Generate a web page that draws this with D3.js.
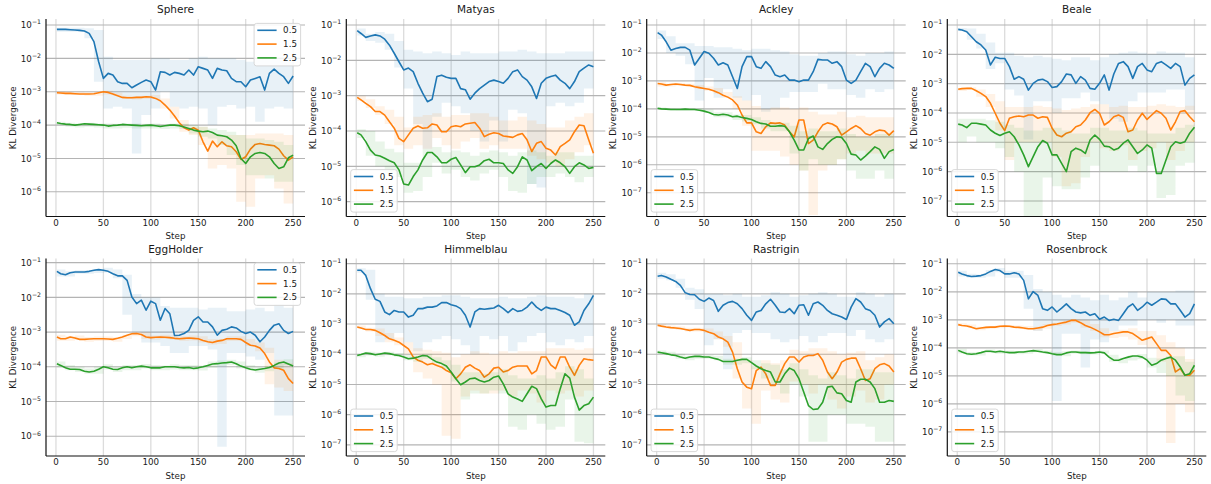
<!DOCTYPE html>
<html lang="en">
<head>
<meta charset="UTF-8">
<title>KL Divergence per test function</title>
<style>
    body {
        margin: 0;
        background: #fff;
        font-family: "DejaVu Sans", sans-serif;
    }
    text { fill: #1a1a1a; }
</style>
</head>
<body>
<svg id="chart" width="1211" height="484"></svg>
<script src="https://cdn.jsdelivr.net/npm/d3@7/dist/d3.min.js"></script>
<script>
// all KL values are stored as log10(KL)
const steps = [1, 5, 10, 15, 20, 25, 30, 35, 40, 45, 50, 55, 60, 65, 70, 75, 80, 85, 90, 95, 100, 105, 110, 115, 120, 125, 130, 135, 140, 145, 150, 155, 160, 165, 170, 175, 180, 185, 190, 195, 200, 205, 210, 215, 220, 225, 230, 235, 240, 245, 250];
const bandSteps = [1, 10, 20, 30, 40, 50, 60, 70, 80, 90, 100, 110, 120, 130, 140, 150, 160, 170, 180, 190, 200, 210, 220, 230, 240, 250];
const seriesLabels = ["0.5", "1.5", "2.5"];
const xTicks = [0, 50, 100, 150, 200, 250];

// Sphere
const sphere_05 = [-1.13,-1.13,-1.13,-1.14,-1.15,-1.16,-1.18,-1.25,-1.5,-2.1,-2.6,-2.45,-2.5,-2.7,-2.75,-2.75,-2.88,-2.8,-2.72,-2.65,-2.7,-2.95,-2.4,-2.42,-2.5,-2.42,-2.45,-2.5,-2.35,-2.5,-2.25,-2.3,-2.35,-2.6,-2.3,-2.35,-2.37,-2.6,-2.7,-2.7,-2.85,-2.65,-2.6,-2.55,-2.95,-2.45,-2.32,-2.45,-2.55,-2.75,-2.53];
const sphere_05_hi = [-1.08,-1.08,-1.08,-1.1,-1.15,-1.95,-2.05,-2.05,-2.05,-2.05,-2.0,-2.0,-2.05,-2.05,-2.0,-1.95,-2.0,-2.0,-2.0,-2.05,-2.1,-2.05,-2.05,-1.95,-2.05,-2.05];
const sphere_05_lo = [-1.2,-1.2,-1.2,-1.4,-2.7,-3.5,-3.45,-3.5,-4.85,-3.7,-3.5,-3.0,-3.45,-3.5,-3.45,-3.5,-4.0,-3.45,-3.4,-3.5,-3.45,-3.9,-3.5,-3.45,-3.5,-3.5];
const sphere_15 = [-3.03,-3.04,-3.05,-3.05,-3.06,-3.07,-3.07,-3.07,-3.06,-3.03,-3.0,-3.02,-3.07,-3.12,-3.17,-3.18,-3.18,-3.17,-3.17,-3.15,-3.16,-3.2,-3.27,-3.4,-3.55,-3.73,-3.93,-4.08,-4.15,-4.08,-4.15,-4.5,-4.78,-4.48,-4.65,-4.5,-4.62,-4.65,-4.8,-5.03,-4.95,-4.72,-4.58,-4.55,-4.58,-4.6,-4.62,-4.72,-4.92,-5.05,-4.95];
const sphere_15_hi = [-2.98,-3.0,-3.0,-3.02,-3.02,-2.97,-3.03,-3.12,-3.13,-3.12,-3.1,-3.2,-3.45,-3.85,-4.05,-4.05,-4.25,-4.3,-4.3,-4.3,-4.3,-4.25,-4.25,-4.25,-4.3,-4.5];
const sphere_15_lo = [-3.08,-3.1,-3.1,-3.12,-3.12,-3.08,-3.12,-3.22,-3.23,-3.22,-3.22,-3.5,-3.8,-4.2,-4.3,-4.6,-5.3,-5.2,-5.3,-6.3,-6.45,-5.6,-5.5,-5.9,-6.35,-6.3];
const sphere_25 = [-3.93,-3.95,-3.97,-3.98,-4.0,-3.98,-3.96,-3.97,-3.98,-3.99,-4.0,-4.03,-4.01,-4.0,-3.98,-3.99,-4.0,-4.01,-4.02,-4.01,-4.0,-4.02,-4.04,-4.02,-4.0,-4.0,-4.02,-4.06,-4.1,-4.15,-4.18,-4.2,-4.18,-4.22,-4.3,-4.32,-4.35,-4.45,-4.62,-5.0,-5.15,-4.95,-4.85,-4.82,-4.85,-4.95,-5.15,-5.3,-5.25,-4.98,-4.9];
const sphere_25_hi = [-3.9,-3.93,-3.95,-3.93,-3.95,-3.95,-3.96,-3.95,-3.95,-3.96,-3.95,-3.98,-3.95,-3.96,-4.0,-4.05,-4.1,-4.15,-4.2,-4.3,-4.4,-4.4,-4.45,-4.5,-4.6,-4.7];
const sphere_25_lo = [-4.0,-4.05,-4.07,-4.05,-4.07,-4.1,-4.1,-4.08,-4.1,-4.1,-4.1,-4.12,-4.1,-4.12,-4.25,-4.35,-4.4,-4.6,-4.9,-5.2,-5.5,-5.5,-5.6,-5.7,-5.7,-5.7];

// Matyas
const matyas_05 = [-1.16,-1.24,-1.35,-1.31,-1.28,-1.31,-1.4,-1.57,-1.8,-2.04,-2.27,-2.22,-2.32,-2.65,-2.93,-3.17,-3.1,-2.46,-2.42,-2.48,-2.51,-2.51,-2.8,-2.83,-3.1,-2.93,-2.8,-2.7,-2.6,-2.56,-2.6,-2.65,-2.51,-2.32,-2.27,-2.46,-2.56,-2.75,-3.08,-2.65,-2.51,-2.46,-2.42,-2.56,-2.65,-2.8,-2.6,-2.32,-2.22,-2.13,-2.18];
const matyas_05_hi = [-1.1,-1.25,-1.2,-1.25,-1.45,-1.7,-1.75,-1.8,-1.75,-1.8,-1.85,-1.75,-1.8,-1.8,-1.8,-1.75,-1.75,-1.7,-1.75,-1.8,-1.8,-1.8,-1.75,-1.75,-1.75,-1.75];
const matyas_05_lo = [-1.3,-1.45,-1.5,-1.7,-2.2,-2.8,-3.8,-4.5,-3.6,-3.2,-3.3,-3.5,-4.0,-4.3,-3.7,-4.3,-3.4,-3.5,-5.5,-5.6,-3.3,-3.2,-3.3,-3.2,-2.8,-2.6];
const matyas_15 = [-3.05,-3.12,-3.22,-3.31,-3.45,-3.45,-3.55,-3.74,-3.92,-4.21,-4.3,-4.11,-3.92,-3.86,-3.92,-3.91,-3.8,-3.83,-4.02,-4.02,-3.88,-3.85,-3.88,-3.8,-3.78,-3.76,-3.92,-4.16,-4.09,-4.05,-4.07,-4.14,-4.16,-4.18,-4.11,-4.07,-4.25,-4.58,-4.35,-4.3,-4.49,-4.54,-4.68,-4.44,-4.35,-4.25,-4.02,-3.83,-3.85,-4.25,-4.63];
const matyas_15_hi = [-3.0,-3.1,-3.3,-3.4,-3.6,-3.9,-3.6,-3.55,-3.5,-3.6,-3.55,-3.55,-3.5,-3.5,-3.6,-3.7,-3.7,-3.6,-3.7,-3.8,-3.9,-3.9,-3.7,-3.6,-3.5,-3.7];
const matyas_15_lo = [-3.15,-3.35,-3.55,-3.8,-4.4,-4.5,-4.4,-4.5,-4.2,-4.4,-4.5,-4.3,-4.2,-4.5,-4.4,-4.5,-4.5,-4.5,-4.7,-4.8,-4.9,-5.0,-4.8,-4.6,-4.4,-4.9];
const matyas_25 = [-4.05,-4.11,-4.3,-4.54,-4.68,-4.71,-4.77,-4.84,-4.9,-5.1,-5.5,-5.53,-5.29,-5.1,-4.82,-4.61,-4.61,-4.73,-4.9,-4.9,-4.8,-4.75,-4.96,-5.18,-5.01,-5.01,-4.96,-4.84,-4.8,-4.9,-4.9,-4.92,-5.1,-5.2,-5.01,-4.73,-4.82,-5.12,-5.01,-4.92,-5.06,-4.92,-4.82,-4.9,-5.01,-5.2,-5.01,-4.9,-4.96,-5.06,-5.03];
const matyas_25_hi = [-3.95,-4.0,-4.3,-4.5,-4.6,-4.9,-4.9,-4.5,-4.45,-4.6,-4.55,-4.6,-4.7,-4.6,-4.55,-4.6,-4.7,-4.6,-4.55,-4.6,-4.7,-4.6,-4.6,-4.7,-4.7,-4.75];
const matyas_25_lo = [-4.2,-4.7,-5.0,-5.2,-5.3,-5.75,-5.7,-5.3,-4.9,-5.2,-5.1,-5.3,-5.4,-5.2,-5.1,-5.3,-5.7,-5.75,-5.5,-5.3,-5.3,-5.2,-5.3,-5.45,-5.3,-5.3];

// Ackley
const ackley_05 = [-1.27,-1.36,-1.6,-1.9,-1.84,-1.8,-1.8,-1.9,-2.43,-2.19,-1.95,-2.01,-2.19,-2.43,-2.35,-2.43,-2.85,-3.27,-2.49,-2.13,-2.13,-2.49,-2.55,-2.31,-2.49,-2.79,-2.85,-2.79,-2.97,-2.97,-3.03,-2.97,-2.97,-2.67,-2.23,-2.25,-2.25,-2.37,-2.31,-2.49,-2.97,-3.09,-2.97,-2.67,-2.37,-2.49,-2.85,-2.55,-2.37,-2.43,-2.55];
const ackley_05_hi = [-1.2,-1.4,-1.65,-1.65,-1.75,-1.75,-1.8,-1.8,-1.85,-1.9,-1.85,-1.85,-1.9,-1.95,-2.05,-2.1,-2.1,-2.0,-1.95,-1.95,-2.05,-2.1,-2.0,-2.0,-1.95,-2.0];
const ackley_05_lo = [-1.5,-2.0,-2.1,-2.4,-3.7,-2.9,-3.6,-3.3,-3.6,-3.7,-3.5,-4.1,-4.0,-3.6,-3.4,-3.4,-3.4,-3.1,-3.3,-3.3,-3.5,-3.6,-3.3,-3.4,-3.3,-3.2];
const ackley_15 = [-3.09,-3.11,-3.15,-3.13,-3.11,-3.13,-3.15,-3.16,-3.21,-3.24,-3.27,-3.3,-3.35,-3.42,-3.51,-3.58,-3.68,-3.86,-4.22,-4.5,-4.5,-4.82,-4.88,-4.64,-4.5,-4.52,-4.5,-4.58,-4.82,-5.0,-4.4,-4.4,-5.24,-5.12,-4.82,-4.58,-4.5,-4.54,-4.64,-4.94,-4.82,-4.7,-4.6,-4.7,-4.88,-4.94,-4.82,-4.76,-4.78,-4.94,-4.78];
const ackley_15_hi = [-3.05,-3.1,-3.07,-3.1,-3.15,-3.2,-3.25,-3.4,-3.55,-3.7,-3.9,-4.0,-3.95,-3.95,-4.0,-3.95,-4.1,-4.2,-4.2,-4.1,-4.3,-4.25,-4.3,-4.3,-4.3,-4.3];
const ackley_15_lo = [-3.2,-3.2,-3.17,-3.2,-3.27,-3.35,-3.45,-3.6,-4.0,-4.6,-5.5,-5.5,-5.5,-5.7,-6.0,-6.2,-7.8,-6.2,-6.0,-5.8,-5.6,-5.5,-5.6,-5.6,-5.6,-5.6];
const ackley_25 = [-3.98,-4.0,-4.01,-4.02,-4.02,-4.02,-4.01,-4.02,-4.02,-4.05,-4.08,-4.13,-4.2,-4.22,-4.19,-4.22,-4.28,-4.26,-4.31,-4.34,-4.38,-4.46,-4.52,-4.54,-4.62,-4.62,-4.6,-4.62,-4.82,-5.12,-5.47,-5.47,-5.06,-4.97,-5.36,-5.45,-5.24,-5.09,-5.0,-5.02,-5.24,-5.62,-5.65,-5.83,-5.69,-5.53,-5.36,-5.45,-5.77,-5.53,-5.45];
const ackley_25_hi = [-3.95,-3.97,-3.98,-3.97,-3.98,-4.02,-4.12,-4.12,-4.2,-4.22,-4.3,-4.4,-4.5,-4.5,-4.6,-4.8,-4.7,-4.8,-4.8,-4.7,-4.9,-5.0,-5.0,-4.9,-4.9,-5.0];
const ackley_25_lo = [-4.03,-4.05,-4.06,-4.06,-4.07,-4.15,-4.3,-4.3,-4.4,-4.45,-4.55,-4.7,-4.8,-4.8,-5.6,-6.2,-5.8,-6.0,-6.0,-5.8,-6.2,-6.5,-6.5,-6.2,-6.5,-6.4];

// Beale
const beale_05 = [-1.15,-1.17,-1.23,-1.4,-1.57,-1.68,-1.85,-2.36,-2.1,-2.14,-2.14,-2.42,-2.85,-2.76,-2.85,-3.22,-2.99,-2.88,-2.85,-2.93,-3.13,-3.1,-2.93,-2.67,-2.7,-2.99,-2.76,-2.88,-3.16,-3.19,-2.99,-2.7,-3.22,-2.67,-2.31,-2.25,-2.42,-2.82,-2.42,-2.31,-2.53,-2.59,-2.31,-2.25,-2.36,-2.48,-2.31,-2.42,-3.05,-2.82,-2.7];
const beale_05_hi = [-1.1,-1.12,-1.3,-1.6,-1.95,-1.95,-2.05,-2.1,-2.05,-2.1,-2.15,-2.2,-2.1,-2.1,-2.2,-2.1,-2.0,-1.95,-1.9,-1.95,-2.0,-1.9,-1.95,-1.95,-2.1,-2.1];
const beale_05_lo = [-1.2,-1.5,-1.8,-2.5,-2.3,-3.2,-3.4,-4.9,-3.6,-3.6,-4.0,-3.5,-3.5,-3.3,-3.6,-3.7,-4.2,-4.3,-3.6,-3.3,-3.3,-3.3,-3.2,-3.2,-3.9,-3.4];
const beale_15 = [-3.19,-3.17,-3.16,-3.16,-3.24,-3.33,-3.44,-3.67,-4.01,-4.35,-4.6,-4.18,-4.13,-4.1,-4.13,-4.07,-4.07,-4.18,-4.13,-4.15,-4.52,-4.75,-4.81,-4.69,-4.64,-4.47,-4.41,-4.24,-3.99,-3.88,-4.01,-4.41,-4.3,-4.13,-4.07,-4.15,-4.64,-4.58,-4.24,-4.01,-4.22,-4.07,-3.92,-4.01,-4.18,-4.58,-4.3,-3.95,-3.92,-4.13,-4.3];
const beale_15_hi = [-3.15,-3.12,-3.2,-3.35,-3.6,-3.8,-3.8,-3.8,-3.75,-3.8,-3.85,-3.9,-3.85,-3.8,-3.7,-3.7,-3.8,-3.75,-3.8,-3.8,-3.75,-3.7,-3.75,-3.8,-3.75,-3.8];
const beale_15_lo = [-3.25,-3.22,-3.45,-3.8,-4.6,-5.6,-5.0,-5.0,-5.0,-5.0,-5.5,-6.5,-6.4,-5.5,-5.0,-5.2,-5.3,-5.1,-5.6,-5.3,-5.2,-5.0,-5.6,-5.3,-5.0,-5.2];
const beale_25 = [-4.38,-4.41,-4.5,-4.35,-4.35,-4.38,-4.41,-4.58,-4.69,-4.77,-4.69,-4.64,-4.81,-5.09,-5.43,-5.83,-5.49,-5.15,-4.94,-5.03,-5.43,-5.43,-5.72,-6.0,-5.32,-5.2,-5.26,-5.38,-4.92,-4.75,-4.9,-5.13,-5.15,-5.26,-5.2,-5.03,-4.92,-5.15,-5.38,-5.26,-5.09,-5.2,-6.06,-6.06,-5.6,-5.15,-4.98,-5.03,-4.98,-4.69,-4.49];
const beale_25_hi = [-4.2,-4.2,-4.2,-4.25,-4.3,-4.4,-4.5,-4.6,-4.6,-4.5,-4.5,-4.6,-4.7,-4.7,-4.5,-4.5,-4.6,-4.6,-4.5,-4.6,-4.7,-4.7,-4.7,-4.5,-4.4,-4.3];
const beale_25_lo = [-5.0,-4.8,-5.0,-5.0,-5.2,-5.5,-6.0,-7.6,-7.6,-6.2,-6.5,-6.6,-6.6,-6.2,-5.8,-6.0,-6.0,-6.0,-5.8,-6.0,-5.8,-6.9,-6.8,-5.8,-5.7,-5.5];

// EggHolder
const egg_05 = [-1.25,-1.32,-1.35,-1.29,-1.27,-1.27,-1.27,-1.25,-1.22,-1.2,-1.22,-1.25,-1.32,-1.38,-1.38,-1.51,-1.99,-2.18,-2.08,-2.37,-2.11,-2.18,-2.66,-2.32,-2.47,-3.1,-3.09,-3.04,-2.95,-2.66,-2.56,-2.71,-2.71,-2.85,-3.09,-2.95,-2.92,-2.85,-2.88,-2.98,-3.04,-3.0,-3.09,-3.28,-3.14,-2.95,-2.8,-2.76,-2.95,-3.04,-2.98];
const egg_05_hi = [-1.2,-1.25,-1.22,-1.22,-1.18,-1.15,-1.2,-1.35,-1.9,-2.0,-2.0,-2.25,-2.3,-2.3,-2.3,-2.35,-2.3,-2.3,-2.4,-2.4,-2.35,-2.3,-2.4,-2.2,-2.3,-2.4];
const egg_05_lo = [-1.4,-1.4,-1.32,-1.32,-1.3,-1.28,-1.45,-2.5,-3.0,-3.3,-3.3,-3.4,-3.6,-3.6,-3.4,-3.4,-3.5,-6.3,-3.6,-3.6,-3.7,-3.8,-3.6,-5.4,-5.4,-5.4];
const egg_15 = [-3.14,-3.19,-3.19,-3.14,-3.17,-3.21,-3.21,-3.2,-3.19,-3.19,-3.19,-3.2,-3.21,-3.18,-3.14,-3.09,-3.05,-3.04,-3.07,-3.14,-3.16,-3.15,-3.14,-3.15,-3.16,-3.18,-3.19,-3.18,-3.17,-3.18,-3.19,-3.24,-3.28,-3.3,-3.26,-3.24,-3.19,-3.19,-3.19,-3.21,-3.3,-3.38,-3.4,-3.46,-3.62,-3.86,-4.03,-4.05,-4.1,-4.34,-4.48];
const egg_15_hi = [-3.08,-3.12,-3.1,-3.14,-3.13,-3.13,-3.15,-3.08,-3.0,-3.0,-3.1,-3.08,-3.1,-3.12,-3.1,-3.12,-3.2,-3.2,-3.12,-3.12,-3.2,-3.3,-3.45,-3.8,-3.9,-4.2];
const egg_15_lo = [-3.25,-3.25,-3.23,-3.28,-3.26,-3.26,-3.28,-3.2,-3.12,-3.2,-3.22,-3.2,-3.22,-3.26,-3.24,-3.3,-3.36,-3.34,-3.26,-3.26,-3.4,-3.55,-4.5,-4.6,-4.7,-4.75];
const egg_25 = [-3.91,-3.96,-4.03,-4.07,-4.07,-4.08,-4.13,-4.15,-4.13,-4.07,-4.0,-4.03,-4.07,-4.08,-4.03,-4.0,-4.03,-4.0,-3.98,-4.0,-4.03,-4.03,-4.03,-4.0,-4.0,-4.0,-4.02,-4.03,-4.02,-4.05,-4.03,-4.0,-3.96,-3.92,-3.91,-3.89,-3.88,-3.86,-3.91,-3.98,-4.03,-4.07,-4.09,-4.07,-4.05,-4.02,-3.96,-3.89,-3.86,-3.92,-3.98];
const egg_25_hi = [-3.85,-3.95,-4.0,-4.05,-4.0,-3.93,-4.0,-3.95,-3.95,-3.92,-3.95,-3.96,-3.93,-3.95,-3.95,-3.96,-3.85,-3.82,-3.8,-3.85,-3.95,-4.0,-3.97,-3.88,-3.78,-3.85];
const egg_25_lo = [-4.02,-4.1,-4.15,-4.2,-4.2,-4.08,-4.15,-4.1,-4.1,-4.05,-4.1,-4.1,-4.08,-4.1,-4.1,-4.11,-4.03,-3.98,-3.95,-4.05,-4.1,-4.17,-4.13,-4.05,-3.95,-4.08];

// Himmelblau
const himmel_05 = [-1.22,-1.22,-1.39,-1.83,-2.18,-2.25,-2.6,-2.69,-2.55,-2.6,-2.6,-2.77,-2.71,-2.49,-2.49,-2.44,-2.44,-2.4,-2.29,-2.29,-2.36,-2.4,-2.49,-2.71,-3.1,-2.6,-2.49,-2.51,-2.49,-2.47,-2.38,-2.49,-2.62,-2.49,-2.58,-2.55,-2.44,-2.27,-2.44,-2.55,-2.44,-2.49,-2.49,-2.55,-2.62,-2.71,-3.04,-2.93,-2.55,-2.33,-2.05];
const himmel_05_hi = [-1.15,-1.2,-2.0,-2.1,-2.1,-2.15,-2.15,-2.1,-2.1,-2.05,-2.05,-2.1,-2.15,-2.15,-2.15,-2.1,-2.15,-2.15,-2.1,-2.05,-2.1,-2.1,-2.1,-2.15,-2.0,-1.9];
const himmel_05_lo = [-1.3,-2.2,-3.6,-3.5,-3.3,-3.6,-3.9,-3.6,-3.5,-3.4,-3.5,-3.7,-4.0,-3.4,-3.5,-3.4,-3.9,-3.6,-3.4,-3.3,-3.6,-3.7,-3.5,-3.6,-3.4,-3.3];
const himmel_15 = [-3.1,-3.13,-3.18,-3.18,-3.21,-3.29,-3.38,-3.49,-3.54,-3.6,-3.71,-3.82,-4.09,-4.2,-4.26,-4.35,-4.31,-4.37,-4.43,-4.54,-4.61,-4.81,-4.65,-4.43,-4.35,-4.46,-4.54,-4.76,-4.65,-4.46,-4.43,-4.59,-4.54,-4.43,-4.39,-4.39,-4.39,-4.65,-4.54,-4.09,-4.09,-4.35,-4.48,-4.09,-4.09,-4.43,-4.7,-4.37,-4.15,-4.18,-4.2];
const himmel_15_hi = [-3.05,-3.12,-3.15,-3.3,-3.45,-3.6,-3.8,-3.85,-3.9,-3.95,-4.1,-4.0,-3.9,-3.95,-4.0,-3.9,-3.95,-3.9,-3.9,-3.9,-3.8,-3.8,-3.8,-3.85,-3.8,-3.8];
const himmel_15_lo = [-3.15,-3.25,-3.4,-3.6,-3.7,-4.0,-4.6,-4.8,-5.0,-6.7,-6.8,-5.4,-5.2,-5.3,-5.3,-5.2,-5.4,-5.2,-5.3,-5.6,-5.2,-5.3,-5.2,-5.4,-5.2,-5.1];
const himmel_25 = [-4.04,-4.01,-3.96,-3.98,-4.02,-3.99,-3.96,-3.98,-4.02,-4.04,-4.09,-4.15,-4.13,-4.09,-4.04,-4.06,-4.17,-4.26,-4.31,-4.39,-4.59,-4.81,-5.01,-4.92,-4.81,-4.79,-4.87,-4.92,-4.87,-4.76,-4.72,-4.98,-5.31,-5.42,-5.48,-5.56,-5.31,-5.06,-5.14,-5.48,-5.75,-5.7,-5.7,-5.14,-4.65,-4.79,-5.42,-5.85,-5.7,-5.64,-5.42];
const himmel_25_hi = [-3.98,-3.92,-3.94,-3.92,-3.96,-4.02,-4.05,-3.98,-4.1,-4.2,-4.35,-4.6,-4.6,-4.65,-4.6,-4.5,-4.7,-4.8,-4.8,-4.7,-4.8,-4.6,-4.4,-4.5,-4.8,-4.8];
const himmel_25_lo = [-4.1,-4.04,-4.08,-4.03,-4.08,-4.2,-4.25,-4.15,-4.3,-4.5,-4.9,-5.5,-5.3,-5.3,-5.2,-5.3,-6.4,-6.5,-6.0,-6.3,-6.5,-6.4,-5.5,-6.9,-6.95,-6.8];

// Rastrigin
const rast_05 = [-1.42,-1.39,-1.44,-1.52,-1.59,-1.72,-1.96,-2.02,-2.03,-2.18,-2.25,-2.14,-2.22,-2.58,-2.38,-2.29,-2.25,-2.33,-2.49,-2.71,-2.88,-2.6,-2.55,-2.33,-2.18,-2.38,-2.6,-2.62,-2.49,-2.66,-2.38,-2.36,-2.71,-2.33,-2.27,-2.38,-2.55,-2.66,-2.71,-2.77,-2.85,-2.44,-2.16,-2.27,-2.49,-2.55,-2.71,-3.1,-2.93,-2.82,-2.99];
const rast_05_hi = [-1.3,-1.35,-1.5,-1.8,-1.85,-2.0,-2.0,-2.05,-2.0,-2.1,-2.1,-2.05,-1.95,-2.0,-2.1,-2.05,-2.0,-1.95,-2.0,-2.1,-2.1,-1.95,-2.0,-2.1,-2.0,-2.1];
const rast_05_lo = [-1.5,-1.55,-1.8,-2.2,-2.5,-3.7,-3.5,-4.5,-3.3,-3.2,-3.3,-3.3,-3.5,-3.6,-3.5,-3.4,-3.6,-3.4,-3.3,-3.3,-3.4,-3.2,-3.5,-3.6,-3.5,-3.6];
const rast_15 = [-3.04,-3.07,-3.1,-3.12,-3.13,-3.15,-3.18,-3.21,-3.18,-3.18,-3.21,-3.27,-3.32,-3.43,-3.49,-3.6,-3.93,-4.48,-4.92,-5.09,-5.14,-4.54,-4.43,-4.65,-5.03,-5.03,-4.65,-4.31,-4.09,-4.09,-4.26,-4.09,-4.04,-4.04,-3.98,-4.2,-4.59,-4.81,-4.59,-4.26,-4.17,-4.13,-4.13,-4.48,-4.87,-4.81,-4.48,-4.35,-4.31,-4.39,-4.59];
const rast_15_hi = [-3.0,-3.05,-3.08,-3.12,-3.12,-3.15,-3.25,-3.4,-3.6,-4.2,-4.4,-4.2,-4.3,-4.2,-3.85,-3.9,-3.8,-3.8,-3.9,-4.0,-3.95,-3.9,-4.2,-4.1,-4.0,-4.1];
const rast_15_lo = [-3.1,-3.15,-3.2,-3.25,-3.25,-3.3,-3.5,-3.75,-4.8,-5.8,-6.3,-5.2,-5.5,-5.6,-4.9,-5.0,-5.3,-5.0,-5.5,-5.8,-5.4,-5.2,-5.6,-5.5,-5.0,-5.2];
const rast_25 = [-3.93,-3.95,-3.98,-4.02,-4.04,-4.09,-4.13,-4.09,-4.07,-4.07,-4.09,-4.09,-4.13,-4.17,-4.24,-4.24,-4.24,-4.2,-4.17,-4.17,-4.28,-4.39,-4.48,-4.54,-4.59,-4.92,-4.92,-4.65,-4.46,-4.54,-4.81,-5.25,-5.7,-5.83,-5.81,-5.59,-5.09,-5.06,-5.28,-5.31,-5.53,-5.59,-4.92,-4.83,-4.83,-4.92,-5.14,-5.59,-5.59,-5.53,-5.56];
const rast_25_hi = [-3.88,-3.92,-3.98,-4.05,-4.0,-4.02,-4.05,-4.15,-4.15,-4.1,-4.2,-4.3,-4.35,-4.5,-4.3,-4.5,-4.7,-4.8,-4.6,-4.7,-4.8,-4.5,-4.5,-4.6,-4.6,-4.6];
const rast_25_lo = [-3.98,-4.03,-4.15,-4.2,-4.15,-4.15,-4.2,-4.35,-4.35,-4.3,-4.5,-4.8,-5.0,-5.3,-5.0,-5.4,-6.9,-6.9,-6.0,-6.0,-6.3,-6.3,-6.4,-6.9,-6.9,-6.8];

// Rosenbrock
const rosen_05 = [-1.3,-1.36,-1.42,-1.45,-1.44,-1.42,-1.36,-1.27,-1.2,-1.24,-1.36,-1.36,-1.32,-1.36,-1.59,-2.25,-1.99,-2.13,-2.6,-2.66,-2.54,-2.72,-2.58,-2.43,-2.6,-2.72,-2.75,-2.72,-2.84,-2.78,-2.98,-2.9,-3.02,-2.98,-3.02,-2.78,-2.54,-2.43,-2.66,-2.54,-2.37,-2.48,-2.37,-2.25,-2.27,-2.43,-2.43,-2.66,-2.9,-2.78,-2.43];
const rosen_05_hi = [-1.25,-1.35,-1.38,-1.22,-1.15,-1.25,-1.25,-1.4,-1.9,-2.0,-2.1,-2.2,-2.1,-2.2,-2.3,-2.1,-2.3,-2.2,-2.0,-2.2,-2.0,-2.0,-2.0,-1.95,-1.95,-2.0];
const rosen_05_lo = [-1.45,-1.5,-1.5,-1.45,-1.3,-1.5,-1.5,-2.6,-3.4,-3.2,-5.9,-3.5,-3.5,-4.7,-3.7,-3.8,-3.4,-3.2,-3.2,-3.0,-3.0,-3.1,-3.0,-3.2,-3.2,-3.3];
const rosen_15 = [-3.17,-3.2,-3.22,-3.26,-3.32,-3.29,-3.27,-3.26,-3.26,-3.23,-3.22,-3.23,-3.26,-3.27,-3.29,-3.32,-3.32,-3.29,-3.26,-3.2,-3.17,-3.15,-3.11,-3.08,-3.02,-3.02,-3.1,-3.2,-3.26,-3.34,-3.43,-3.53,-3.53,-3.49,-3.46,-3.43,-3.43,-3.49,-3.61,-3.73,-3.67,-3.61,-3.85,-4.09,-4.09,-4.27,-4.86,-4.74,-4.98,-4.98,-4.8];
const rosen_15_hi = [-3.12,-3.17,-3.25,-3.22,-3.2,-3.18,-3.2,-3.22,-3.25,-3.15,-3.1,-3.05,-2.97,-3.0,-3.15,-3.3,-3.4,-3.35,-3.3,-3.4,-3.4,-3.55,-3.8,-4.0,-4.4,-4.2];
const rosen_15_lo = [-3.22,-3.27,-3.37,-3.32,-3.3,-3.27,-3.3,-3.35,-3.38,-3.32,-3.22,-3.17,-3.1,-3.28,-3.4,-3.62,-3.65,-3.6,-3.7,-3.9,-4.0,-4.5,-7.4,-6.0,-6.3,-6.5];
const rosen_25 = [-4.09,-4.15,-4.21,-4.23,-4.21,-4.17,-4.12,-4.12,-4.15,-4.12,-4.15,-4.17,-4.17,-4.15,-4.15,-4.12,-4.1,-4.12,-4.15,-4.17,-4.21,-4.24,-4.24,-4.18,-4.15,-4.15,-4.17,-4.17,-4.18,-4.17,-4.15,-4.18,-4.33,-4.44,-4.44,-4.38,-4.33,-4.29,-4.29,-4.33,-4.44,-4.62,-4.56,-4.44,-4.38,-4.33,-4.44,-4.68,-4.98,-4.92,-4.62];
const rosen_25_hi = [-4.03,-4.15,-4.15,-4.06,-4.09,-4.09,-4.11,-4.09,-4.04,-4.09,-4.15,-4.12,-4.09,-4.11,-4.12,-4.09,-4.25,-4.35,-4.27,-4.22,-4.35,-4.38,-4.3,-4.3,-4.5,-4.45];
const rosen_25_lo = [-4.2,-4.27,-4.27,-4.18,-4.21,-4.21,-4.23,-4.21,-4.16,-4.21,-4.27,-4.3,-4.21,-4.23,-4.24,-4.21,-4.5,-4.55,-4.45,-4.4,-4.7,-4.9,-5.0,-5.7,-5.9,-5.6];

// y-axis limits, log10
const yLimits = [[-6.74, -0.82], [-6.42, -0.83], [-7.85, -0.785], [-7.53, -0.795],
                 [-6.57, -0.88], [-7.37, -0.83], [-7.37, -0.83], [-7.86, -0.81]];

const panels = [
    { title: "Sphere", legend: "upper right", mean: [sphere_05, sphere_15, sphere_25], hi: [sphere_05_hi, sphere_15_hi, sphere_25_hi], lo: [sphere_05_lo, sphere_15_lo, sphere_25_lo] },
    { title: "Matyas", legend: "lower left", mean: [matyas_05, matyas_15, matyas_25], hi: [matyas_05_hi, matyas_15_hi, matyas_25_hi], lo: [matyas_05_lo, matyas_15_lo, matyas_25_lo] },
    { title: "Ackley", legend: "lower left", mean: [ackley_05, ackley_15, ackley_25], hi: [ackley_05_hi, ackley_15_hi, ackley_25_hi], lo: [ackley_05_lo, ackley_15_lo, ackley_25_lo] },
    { title: "Beale", legend: "lower left", mean: [beale_05, beale_15, beale_25], hi: [beale_05_hi, beale_15_hi, beale_25_hi], lo: [beale_05_lo, beale_15_lo, beale_25_lo] },
    { title: "EggHolder", legend: "upper right", mean: [egg_05, egg_15, egg_25], hi: [egg_05_hi, egg_15_hi, egg_25_hi], lo: [egg_05_lo, egg_15_lo, egg_25_lo] },
    { title: "Himmelblau", legend: "lower left", mean: [himmel_05, himmel_15, himmel_25], hi: [himmel_05_hi, himmel_15_hi, himmel_25_hi], lo: [himmel_05_lo, himmel_15_lo, himmel_25_lo] },
    { title: "Rastrigin", legend: "lower left", mean: [rast_05, rast_15, rast_25], hi: [rast_05_hi, rast_15_hi, rast_25_hi], lo: [rast_05_lo, rast_15_lo, rast_25_lo] },
    { title: "Rosenbrock", legend: "lower left", mean: [rosen_05, rosen_15, rosen_25], hi: [rosen_05_hi, rosen_15_hi, rosen_25_hi], lo: [rosen_05_lo, rosen_15_lo, rosen_25_lo] }
];

const colors = ["#1f77b4", "#ff7f0e", "#2ca02c"];
const colLeft = [46, 346.3, 646.7, 947.3];
const rowTop = [19, 258.5];
const axW = 259, axH = 197.5;
const fs = 8.7;

const svg = d3.select("#chart");
const x = d3.scaleLinear().domain([-10.5, 262.5]).range([0, axW]);

panels.forEach((p, i) => {
    const col = i % 4, row = Math.floor(i / 4);
    const lim = yLimits[i];
    const y = d3.scaleLog().domain([10 ** lim[0], 10 ** lim[1]]).range([axH, 0]);
    const g = svg.append("g").attr("transform", `translate(${colLeft[col]},${rowTop[row]})`);

    g.append("clipPath").attr("id", "clip" + i)
        .append("rect").attr("width", axW).attr("height", axH);

    // grid
    g.append("g").selectAll("line").data(xTicks).join("line")
        .attr("x1", d => x(d)).attr("x2", d => x(d))
        .attr("y1", 0).attr("y2", axH)
        .attr("stroke", "#dcdcdc").attr("stroke-width", 1.3);
    const decades = d3.range(Math.ceil(lim[0]), Math.floor(lim[1]) + 1);
    g.append("g").selectAll("line").data(decades).join("line")
        .attr("x1", 0).attr("x2", axW)
        .attr("y1", d => y(10 ** d)).attr("y2", d => y(10 ** d))
        .attr("stroke", "#b4b4b4").attr("stroke-width", 1.1);

    // bands + mean lines
    const plot = g.append("g").attr("clip-path", `url(#clip${i})`);
    const area = d3.area().curve(d3.curveStepAfter)
        .x(d => x(d.s)).y0(d => y(10 ** d.lo)).y1(d => y(10 ** d.hi));
    const line = d3.line().x(d => x(d.s)).y(d => y(10 ** d.v));
    p.mean.forEach((m, k) => {
        const band = bandSteps.map((s, j) => ({ s, lo: p.lo[k][j], hi: p.hi[k][j] }))
            .filter(d => d.lo !== undefined && d.hi !== undefined);
        plot.append("path").datum(band).attr("d", area)
            .attr("fill", colors[k]).attr("fill-opacity", 0.1);
        const pts = steps.map((s, j) => ({ s, v: m[j] })).filter(d => d.v !== undefined);
        plot.append("path").datum(pts).attr("d", line)
            .attr("fill", "none").attr("stroke", colors[k])
            .attr("stroke-width", 1.6).attr("stroke-linejoin", "round");
    });

    // spines
    g.append("line").attr("x1", 0).attr("x2", 0).attr("y1", 0).attr("y2", axH)
        .attr("stroke", "#111").attr("stroke-width", 1.2);
    g.append("line").attr("x1", 0).attr("x2", axW).attr("y1", axH).attr("y2", axH)
        .attr("stroke", "#111").attr("stroke-width", 1.2);

    // tick labels
    g.append("g").selectAll("text").data(xTicks).join("text")
        .attr("x", d => x(d)).attr("y", axH + 9)
        .attr("text-anchor", "middle").attr("font-size", fs)
        .text(d => d);
    const yt = g.append("g").selectAll("text").data(decades).join("text")
        .attr("x", -5).attr("y", d => y(10 ** d) + 3.2)
        .attr("text-anchor", "end").attr("font-size", fs);
    yt.append("tspan").text("10");
    yt.append("tspan").attr("dy", -3.9).attr("font-size", 6.2)
        .text(d => "\u2212" + Math.abs(d));

    // labels
    g.append("text").attr("x", axW / 2).attr("y", -5.6)
        .attr("text-anchor", "middle").attr("font-size", 10.5).text(p.title);
    g.append("text").attr("x", axW / 2).attr("y", axH + 22.5)
        .attr("text-anchor", "middle").attr("font-size", fs).text("Step");
    g.append("text")
        .attr("transform", `translate(-30.5,${axH / 2}) rotate(-90)`)
        .attr("text-anchor", "middle").attr("font-size", fs).text("KL Divergence");

    // legend
    const lw = 46.5, lh = 42.5, pad = 4.4;
    const lx = p.legend === "upper right" ? axW - pad - lw : pad;
    const ly = p.legend === "upper right" ? pad : axH - pad - lh;
    const lg = g.append("g").attr("transform", `translate(${lx},${ly})`);
    lg.append("rect").attr("width", lw).attr("height", lh).attr("rx", 2.5)
        .attr("fill", "#fff").attr("fill-opacity", 0.85)
        .attr("stroke", "#d4d4d4").attr("stroke-width", 0.9);
    seriesLabels.forEach((lab, k) => {
        const ey = 6.9 + k * 13.8;
        lg.append("line").attr("x1", 3.2).attr("x2", 22.5).attr("y1", ey).attr("y2", ey)
            .attr("stroke", colors[k]).attr("stroke-width", 1.6);
        lg.append("text").attr("x", 29).attr("y", ey + 3.1)
            .attr("font-size", fs).text(lab);
    });
});
</script>
</body>
</html>
